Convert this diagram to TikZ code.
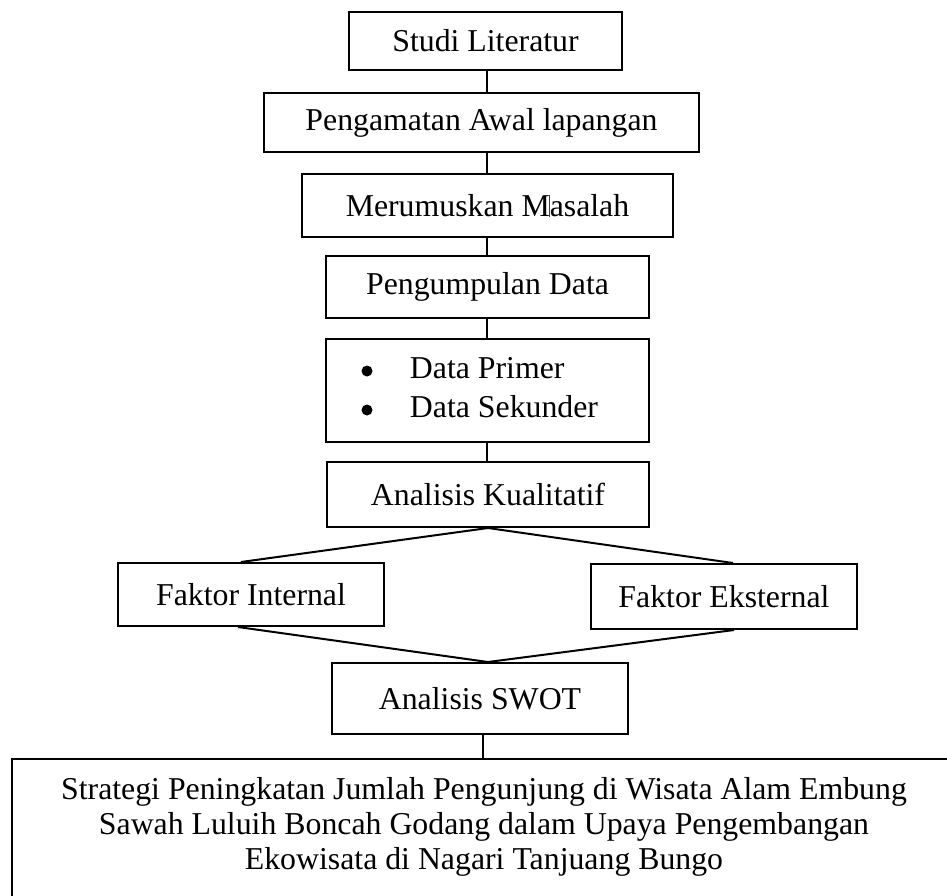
\documentclass[tikz,border=0pt]{standalone}
\usepackage{fontspec}
\setmainfont{Liberation Serif}
\begin{document}
\begin{tikzpicture}[x=1pt,y=1pt,
  box/.style={draw, line width=2pt, inner sep=0pt, align=center,
    font=\fontsize{31.8}{38}\selectfont},
  conn/.style={line width=2pt}]
\useasboundingbox (0,0) rectangle (947,-895);
\coordinate (ax) at (487,0);
\node[box, minimum width=273, minimum height=58] (sl) at (485.5,-41) {Studi Literatur};
\node[box, minimum width=435, minimum height=59] (pa) at (481.5,-122.5) {Pengamatan Awal lapangan};
\node[box, minimum width=371, minimum height=63] (mm) at (487.5,-205.5) {Merumuskan M\makebox[0pt][l]{\kern-1.2pt\color{black!75}\rule[-1pt]{1.6pt}{22pt}}asalah};
\node[box, minimum width=323, minimum height=62] (pd) at (487.5,-287) {Pengumpulan Data};
\node[box, minimum width=323, minimum height=103] (dd) at (487.5,-390.5)
  {\begin{tabular}{@{}l@{}l@{}}\hspace{47pt} & Data Primer\\[1pt]
   \hspace{47pt} & Data Sekunder\end{tabular}\hspace{14pt}};
\fill ([shift={(-120.5,19.5)}]dd.center) circle (5.5);
\fill ([shift={(-120.5,-19.5)}]dd.center) circle (5.5);
\node[box, minimum width=322, minimum height=65] (ak) at (488,-494.5) {Analisis Kualitatif};
\node[box, minimum width=266, minimum height=63] (fi) at (251,-594.5) {Faktor Internal};
\node[box, minimum width=266, minimum height=65] (fe) at (724,-596.5) {Faktor Eksternal};
\node[box, minimum width=296, minimum height=71] (sw) at (480,-698.5) {Analisis SWOT};
\begin{scope}
\clip (0,0) rectangle (947,-895);
\node[box, anchor=north west] (st) at (11,-758)
  {\parbox[c][180pt][t]{944pt}{\centering\fontsize{31.8}{35}\selectfont
   \vspace*{18pt}Strategi Peningkatan Jumlah Pengunjung di Wisata Alam Embung\\
   Sawah Luluih Boncah Godang dalam Upaya Pengembangan\\
   Ekowisata di Nagari Tanjuang Bungo}};
\end{scope}
\draw[conn] (sl.south -| ax) -- (pa.north -| ax);
\draw[conn] (pa.south -| ax) -- (mm.north -| ax);
\draw[conn] (mm.south -| ax) -- (pd.north -| ax);
\draw[conn] (pd.south -| ax) -- (dd.north -| ax);
\draw[conn] (dd.south -| ax) -- (ak.north -| ax);
\draw[conn] (ak.south) -- ([xshift=-10pt]fi.north);
\draw[conn] (ak.south) -- ([xshift=9pt]fe.north);
\draw[conn] ([xshift=-13pt]fi.south) -- ([xshift=8pt]sw.north);
\draw[conn] ([xshift=10pt]fe.south) -- ([xshift=8pt]sw.north);
\draw[conn] ([xshift=3pt]sw.south) -- ([xshift=3pt]sw.south |- st.north);
\end{tikzpicture}
\end{document}
